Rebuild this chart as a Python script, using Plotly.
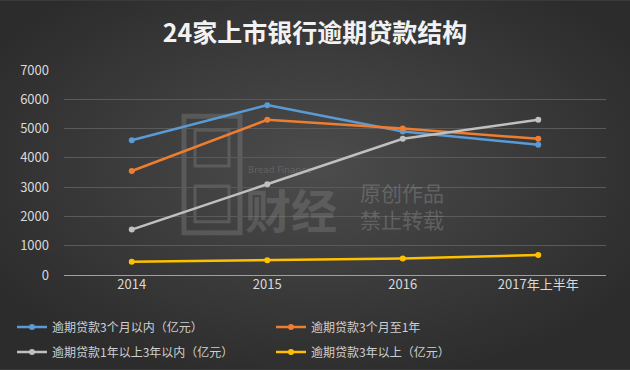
import base64
import plotly.graph_objects as go

categories = ["2014", "2015", "2016", "2017年上半年"]
s_3m = [4600, 5800, 4900, 4450]
s_3m_1y = [3550, 5300, 5000, 4650]
s_1y_3y = [1550, 3100, 4650, 5300]
s_3y = [450, 500, 560, 680]
names = ["逾期贷款3个月以内（亿元）", "逾期贷款3个月至1年",
         "逾期贷款1年以上3年以内（亿元）", "逾期贷款3年以上（亿元）"]
colors = ["#5b9bd5", "#ed7d31", "#c0c0c0", "#ffc000"]
y_ticks = [0, 1000, 2000, 3000, 4000, 5000, 6000, 7000]

W, H = 630, 370
L, R, T, B = 64, 24, 69.5, 94.5
pw, ph = W - L - R, H - T - B


def px_x(v):
    return (v - L) / pw


def px_y(v):
    return 1 - (v - T) / ph


svg = f'''<svg xmlns="http://www.w3.org/2000/svg" width="{W}" height="{H}" viewBox="0 0 {W} {H}" preserveAspectRatio="none">
<defs><radialGradient id="g" cx="50%" cy="45%" r="60%" gradientUnits="objectBoundingBox">
<stop offset="0%" stop-color="#4c4c4c"/><stop offset="100%" stop-color="#2c2c2c"/></radialGradient></defs>
<rect width="{W}" height="{H}" fill="url(#g)"/></svg>'''
bg = "data:image/svg+xml;base64," + base64.b64encode(svg.encode()).decode()

font = "Noto Sans CJK SC, sans-serif"
fig = go.Figure()
series = [s_3m, s_3m_1y, s_1y_3y, s_3y]
legends = ["legend", "legend", "legend2", "legend2"]
for nm, vals, c, lg in zip(names, series, colors, legends):
    fig.add_trace(go.Scatter(x=categories, y=vals, name=nm, mode="lines+markers",
                             line=dict(color=c, width=2.5), marker=dict(color=c, size=6),
                             legend=lg))

# watermark (decorative)
wm = "rgba(150,150,150,0.30)"
for (x0, y0, x1, y1, w) in [(184, 116, 240, 233, 5), (195, 130, 229, 166, 3), (195, 186, 229, 222, 3)]:
    fig.add_shape(type="rect", xref="paper", yref="paper", x0=px_x(x0), x1=px_x(x1),
                  y0=px_y(y1), y1=px_y(y0), line=dict(color=wm, width=w),
                  fillcolor="rgba(0,0,0,0)", layer="below")
fig.add_annotation(text="<b>财经</b>", xref="paper", yref="paper", x=px_x(243), y=px_y(208),
                   showarrow=False, font=dict(family=font, size=46, color=wm),
                   xanchor="left", yanchor="middle")
fig.add_annotation(text="原创作品<br>禁止转载", xref="paper", yref="paper",
                   x=px_x(358), y=px_y(206),
                   showarrow=False, font=dict(family=font, size=21, color="rgba(150,150,150,0.40)"),
                   align="left", xanchor="left", yanchor="middle")
fig.add_annotation(text="Bread Finance", xref="paper", yref="paper",
                   x=px_x(246), y=px_y(170),
                   showarrow=False, font=dict(family="DejaVu Sans", size=9, color="rgba(150,150,150,0.35)"),
                   xanchor="left", yanchor="middle")

leg_common = dict(orientation="h", xref="container", yref="container",
                  xanchor="left", yanchor="middle", entrywidth=214, entrywidthmode="pixels",
                  font=dict(family=font, size=12, color="#cfcfcf"), bgcolor="rgba(0,0,0,0)",
                  itemwidth=30, tracegroupgap=0)

fig.update_layout(
    width=W, height=H,
    margin=dict(l=L, r=R, t=T, b=B, autoexpand=False),
    paper_bgcolor="#3a3a3a",
    plot_bgcolor="rgba(0,0,0,0)",
    title=dict(text="<b>24家上市银行逾期贷款结构</b>", x=0.5, xref="container", xanchor="center",
               y=1 - 33 / H, yref="container", yanchor="middle",
               font=dict(family=font, size=25, color="#f2f2f2")),
    images=[dict(source=bg, xref="paper", yref="paper", x=-L / pw, y=1 + T / ph,
                 sizex=W / pw, sizey=H / ph, sizing="stretch", layer="below",
                 xanchor="left", yanchor="top")],
    xaxis=dict(type="category", range=[-0.5, 3.5], showgrid=False, zeroline=False, showline=False,
               ticks="", tickfont=dict(family=font, size=13, color="#d9d9d9")),
    yaxis=dict(range=[0, 7000], tickvals=y_ticks, showgrid=True, gridcolor="#5a5a5a",
               gridwidth=1, zeroline=True, zerolinecolor="#a0a0a0", zerolinewidth=1,
               ticks="", tickfont=dict(family=font, size=13, color="#d9d9d9"),
               ticklabelstandoff=14),
    legend=dict(x=12 / W, y=1 - 327 / H, **leg_common),
    legend2=dict(x=12 / W, y=1 - 352 / H, **leg_common),
    showlegend=True,
)

fig.write_html("out.html", config={"displayModeBar": False},
               post_script="document.body.style.margin='0';")
